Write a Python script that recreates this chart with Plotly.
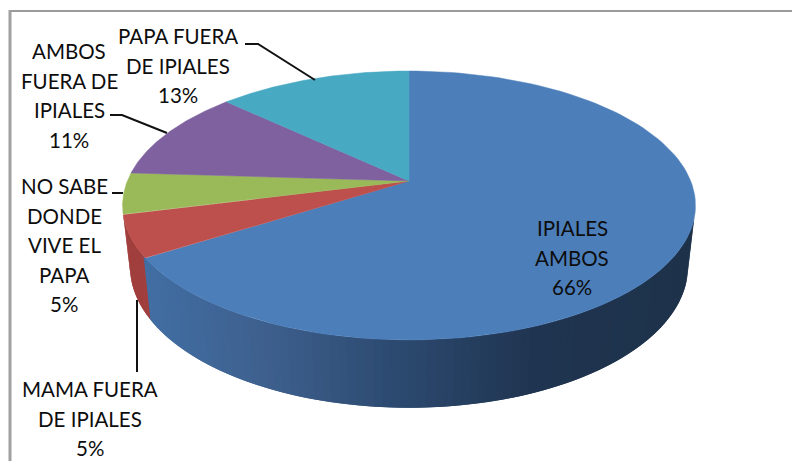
import numpy as np
import plotly.graph_objects as go

# slices clockwise from 12 o'clock
categories = [
    "IPIALES<br>AMBOS",
    "MAMA FUERA<br>DE IPIALES",
    "NO SABE<br>DONDE<br>VIVE EL<br>PAPA",
    "AMBOS<br>FUERA DE<br>IPIALES",
    "PAPA FUERA<br>DE IPIALES",
]
values = [66, 5, 5, 11, 13]
top_colors = ["#4c7eba", "#bd4f4c", "#9aba59", "#7f61a0", "#48a9c3"]
red_side = "#a03f3d"

# x, y of first label line (px)
label_pos = [(572, 228), (90, 389), (64, 186), (69, 51), (177.5, 36)]
line_step = 29.5

leaders = [
    ([245, 258, 315], [44, 44, 80]),
    ([110, 122, 167], [115, 115, 133]),
    ([112, 123], [193, 193]),
    ([137, 137], [300, 372]),
]

# side shading of the blue slice, by x
shade_x = [150, 270, 400, 540, 690]
shade_r = [65, 62, 44, 31, 30]
shade_g = [110, 96, 74, 52, 50]
shade_b = [163, 142, 112, 80, 74]

# perspective of the disc
CX = 409
P = 0.182
TOP = (181, 281.7, 130.0)
BOTTOM = (241, 274.4, 136.4)


def project(theta, ring):
    cy, a, b = ring
    u, v = np.sin(theta), -np.cos(theta)
    den = 1 - P * v
    return CX + a * u / den, cy + b * v / den


edges = np.cumsum([0] + values) / sum(values) * 2 * np.pi

fig = go.Figure()


def poly(xs, ys, color, width=0.5):
    fig.add_trace(go.Scatter(
        x=xs, y=ys, mode="lines", fill="toself", fillcolor=color,
        line=dict(color=color, width=width), hoverinfo="skip", showlegend=False,
    ))


# side wall, right silhouette round to the left one
# each strip runs under the next so no seams show
wall = np.radians(np.arange(105, 256, 1.5))
overlap = np.radians(1.5)
for t0 in wall:
    t1 = t0 + overlap * 2
    x0, y0 = project(t0, TOP)
    x1, y1 = project(t1, TOP)
    x2, y2 = project(t1, BOTTOM)
    x3, y3 = project(t0, BOTTOM)
    if t0 >= edges[1] - 1e-9:
        color = red_side
    else:
        xm = (x0 + x3) / 2
        color = "rgb(%d,%d,%d)" % (
            round(np.interp(xm, shade_x, shade_r)),
            round(np.interp(xm, shade_x, shade_g)),
            round(np.interp(xm, shade_x, shade_b)),
        )
    poly([x0, x1, x2, x3, x0], [y0, y1, y2, y3, y0], color, width=0)

# top face
for i, color in enumerate(top_colors):
    th = np.linspace(edges[i], edges[i + 1], 120)
    xs, ys = project(th, TOP)
    poly([CX] + list(xs) + [CX], [TOP[0]] + list(ys) + [TOP[0]], color)

for xs, ys in leaders:
    fig.add_trace(go.Scatter(
        x=xs, y=ys, mode="lines", line=dict(color="#111111", width=2),
        hoverinfo="skip", showlegend=False,
    ))

for cat, val, (lx, ly) in zip(categories, values, label_pos):
    lines = cat.split("<br>") + ["%d%%" % val]
    for n, line in enumerate(lines):
        fig.add_annotation(
            x=lx, y=ly + n * line_step, text=line, showarrow=False,
            xanchor="center", yanchor="middle",
            font=dict(family="Lato", size=20.5, color="#0d0d0d"),
        )

# chart frame, cropped on the right and bottom
fig.add_shape(type="line", x0=9, x1=792, y0=11, y1=11, line=dict(color="#9a9a9a", width=2))
fig.add_shape(type="line", x0=10, x1=10, y0=10, y1=461, line=dict(color="#a0a0a0", width=3))

fig.update_layout(
    width=792, height=461, margin=dict(l=0, r=0, t=0, b=0),
    paper_bgcolor="white", plot_bgcolor="white", showlegend=False,
    xaxis=dict(range=[0, 792], visible=False, fixedrange=True),
    yaxis=dict(range=[461, 0], visible=False, fixedrange=True),
)

fig.write_html(
    "out.html",
    config={"displayModeBar": False},
    post_script="document.body.style.margin='0';document.body.style.overflow='hidden';",
)
